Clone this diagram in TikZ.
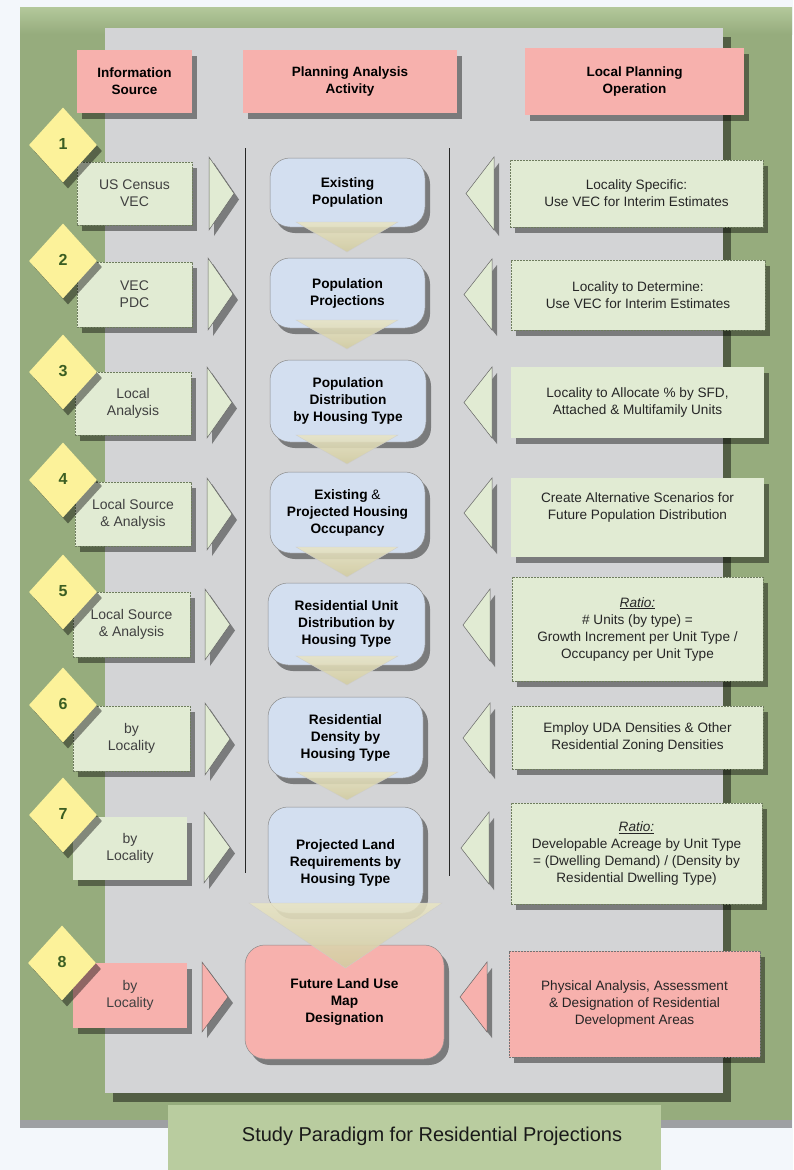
\documentclass[tikz,border=0pt]{standalone}
\usepackage{fontspec}
\setmainfont{Liberation Sans}
\usetikzlibrary{shapes.geometric,shadows}
\definecolor{bgc}{HTML}{F3F7FB}
\definecolor{greenpanel}{HTML}{96AC7D}
\definecolor{greentop}{HTML}{B3C89B}
\definecolor{graypanel}{HTML}{D3D4D6}
\definecolor{pinkc}{HTML}{F7B1AD}
\definecolor{lgreen}{HTML}{E1EBD3}
\definecolor{lblue}{HTML}{D3DFF0}
\definecolor{yel}{HTML}{FCF29A}
\definecolor{tanc}{HTML}{D2CCA0}
\definecolor{tanlight}{HTML}{E8E4C4}
\definecolor{titlec}{HTML}{B9CC9F}
\definecolor{numc}{HTML}{3B5E22}
\definecolor{dashc}{HTML}{6E7C5E}
\tikzset{
 shd/.style={drop shadow={shadow xshift=5pt, shadow yshift=-6pt, opacity=0.42, fill=black}},
 hdr/.style={fill=pinkc, shd, inner sep=0pt, align=center, font=\fontsize{13.5}{17}\selectfont\bfseries},
 srcbox/.style={fill=lgreen, draw=dashc, dash pattern=on 2pt off 1pt, line width=0.5pt, shd, inner sep=0pt, align=center, text=black!75, font=\fontsize{14}{17}\selectfont},
 opbox/.style={fill=lgreen, draw=dashc, dash pattern=on 2pt off 1pt, line width=0.5pt, shd, inner sep=0pt, align=center, text=black!85, font=\fontsize{13.6}{17}\selectfont},
 actbox/.style={fill=lblue, draw=black!45, line width=0.5pt, rounded corners=20pt, shd, inner sep=0pt, align=center, font=\fontsize{13.7}{17}\selectfont\bfseries},
 numd/.style={diamond, fill=yel, minimum width=68pt, minimum height=75pt, inner sep=0pt, shd, text=numc, font=\fontsize{16}{18}\selectfont\bfseries},
 sidetri/.style={fill=lgreen, draw=black!60, line width=0.5pt, shd},
 downtri/.style={top color=tanlight, bottom color=tanc, fill opacity=0.88, draw=black!20, line width=0.3pt},
}
% box node from corner coordinates
\newcommand\bx[7][]{\node[#1, minimum width={(#5)-(#3)}, minimum height={(#6)-(#4)}] (#2) at ({((#3)+(#5))/2},{((#4)+(#6))/2}) {#7};}
% right-pointing triangle
\newcommand\rtri[5][]{\path[#1] (#2,#3) -- (#4,{((#3)+(#5))/2}) -- (#2,#5) -- cycle;}
% left-pointing triangle
\newcommand\ltri[5][]{\path[#1] (#4,#3) -- (#2,{((#3)+(#5))/2}) -- (#4,#5) -- cycle;}
% down-pointing triangle: top y, tip y, x1, x2
\newcommand\dtri[5][]{\path[#1] (#4,#2) -- (#5,#2) -- ({((#4)+(#5))/2},#3) -- cycle;}
\begin{document}
\begin{tikzpicture}[x=1pt,y=-1pt]
\useasboundingbox (0,0) rectangle (793,1170);
\fill[bgc] (0,0) rectangle (793,1170);
% green panel
\fill[greenpanel, drop shadow={shadow xshift=0pt, shadow yshift=-8pt, opacity=0.35, fill=black}] (20,7) rectangle (792,1120);
\shade[top color=greentop, bottom color=greenpanel] (20,7) rectangle (792,34);
% gray panel
\fill[graypanel, drop shadow={shadow xshift=8pt, shadow yshift=-9pt, opacity=0.45, fill=black}] (105,28) rectangle (723,1093);
% title
\bx[fill=titlec, inner sep=0pt]{titlebox}{168}{1105}{661}{1175}{}
\node[font=\fontsize{20}{24}\selectfont, text=black!90] (title) at (432,1136) {Study Paradigm for Residential Projections};
% column separators
\coordinate (l1) at (245,148); \coordinate (l2) at (245,873);
\coordinate (r1) at (449,148); \coordinate (r2) at (449,876);
\draw[black!85, line width=0.8pt] (l1) -- (l2);
\draw[black!85, line width=0.8pt] (r1) -- (r2);
% headers
\bx[hdr]{h1}{77}{50}{192}{113}{Information\\Source}
\bx[hdr]{h2}{243}{50}{457}{113}{Planning Analysis\\Activity}
\bx[hdr]{h3}{525}{48}{744}{115}{Local Planning\\Operation}

% left source boxes
\bx[srcbox]{s1}{77}{162}{192}{225}{US Census\\VEC}
\bx[srcbox]{s2}{77}{262}{192}{327}{VEC\\PDC}
\bx[srcbox]{s3}{75}{372}{191}{435}{Local\\Analysis}
\bx[srcbox]{s4}{75}{482}{191}{546}{Local Source\\\& Analysis}
\bx[srcbox]{s5}{73}{592}{190}{657}{Local Source\\\& Analysis}
\bx[srcbox]{s6}{73}{706}{190}{771}{by\\Locality}
\bx[srcbox, draw=none]{s7}{73}{817}{187}{880}{by\\Locality}
\bx[srcbox, fill=pinkc, draw=none]{s8}{73}{963}{187}{1028}{by\\Locality}

% number diamonds
\node[numd] (n1) at (63,145) {\raisebox{2pt}{1}};
\node[numd] (n2) at (63,261) {\raisebox{2pt}{2}};
\node[numd] (n3) at (63,372) {\raisebox{2pt}{3}};
\node[numd] (n4) at (63,480) {\raisebox{2pt}{4}};
\node[numd] (n5) at (63,592) {\raisebox{2pt}{5}};
\node[numd] (n6) at (63,705) {\raisebox{2pt}{6}};
\node[numd] (n7) at (63,815) {\raisebox{2pt}{7}};
\node[numd] (n8) at (62,963) {\raisebox{2pt}{8}};

% left side triangles
\rtri[sidetri]{209}{157}{234}{230}
\rtri[sidetri]{208}{258}{233}{330}
\rtri[sidetri]{207}{367}{232}{438}
\rtri[sidetri]{207}{478}{232}{550}
\rtri[sidetri]{205}{589}{230}{660}
\rtri[sidetri]{205}{703}{230}{775}
\rtri[sidetri]{204}{812}{230}{883}
\rtri[sidetri, fill=pinkc]{202}{962}{228}{1032}

% right side triangles
\ltri[sidetri]{466}{157}{494}{230}
\ltri[sidetri]{464}{259}{492}{330}
\ltri[sidetri]{464}{367}{492}{438}
\ltri[sidetri]{464}{478}{492}{548}
\ltri[sidetri]{463}{589}{490}{661}
\ltri[sidetri]{463}{703}{490}{773}
\ltri[sidetri]{461}{812}{489}{884}
\ltri[sidetri, fill=pinkc]{460}{962}{487}{1032}

% right operation boxes
\bx[opbox]{o1}{510}{160}{763}{227}{Locality Specific:\\Use VEC for Interim Estimates}
\bx[opbox]{o2}{511}{260}{765}{330}{Locality to Determine:\\Use VEC for Interim Estimates}
\bx[opbox, draw=none]{o3}{511}{367}{764}{438}{Locality to Allocate \% by SFD,\\Attached \& Multifamily Units}
\bx[opbox, draw=none]{o4}{511}{478}{764}{557}{Create Alternative Scenarios for\\Future Population Distribution\\[6pt]}
\bx[opbox]{o5}{512}{577}{763}{681}{\underline{\textit{Ratio:}}\\\# Units (by type) =\\Growth Increment per Unit Type /\\Occupancy per Unit Type}
\bx[opbox]{o6}{512}{706}{763}{769}{Employ UDA Densities \& Other\\Residential Zoning Densities}
\bx[opbox]{o7}{511}{803}{762}{904}{\underline{\textit{Ratio:}}\\Developable Acreage by Unit Type\\= (Dwelling Demand) / (Density by\\Residential Dwelling Type)}
\bx[opbox, fill=pinkc, draw=black!55]{o8}{509}{951}{760}{1057}{Physical Analysis, Assessment\\\& Designation of Residential\\Development Areas}

% activity boxes
\bx[actbox]{c1}{270}{158}{425}{227}{Existing\\Population}
\bx[actbox]{c2}{270}{258}{425}{328}{Population\\Projections}
\bx[actbox]{c3}{270}{360}{426}{442}{Population\\Distribution\\by Housing Type}
\bx[actbox]{c4}{270}{472}{425}{553}{Existing {\mdseries\&}\\Projected Housing\\Occupancy}
\bx[actbox]{c5}{268}{583}{425}{665}{Residential Unit\\Distribution by\\Housing Type}
\bx[actbox]{c6}{268}{697}{423}{778}{Residential\\Density by\\Housing Type}
\bx[actbox]{c7}{268}{807}{423}{913}{\\[-2pt]Projected Land\\Requirements by\\Housing Type}
\bx[actbox, fill=pinkc]{c8}{245}{945}{444}{1059}{Future Land Use\\Map\\Designation}

% downward flow triangles
\dtri[downtri]{222}{252}{296}{398}
\dtri[downtri]{320}{349}{296}{398}
\dtri[downtri]{435}{464}{296}{398}
\dtri[downtri]{547}{577}{296}{398}
\dtri[downtri]{656}{685}{296}{398}
\dtri[downtri]{772}{800}{296}{398}
\dtri[downtri]{903}{968}{249}{442}
\end{tikzpicture}
\end{document}
